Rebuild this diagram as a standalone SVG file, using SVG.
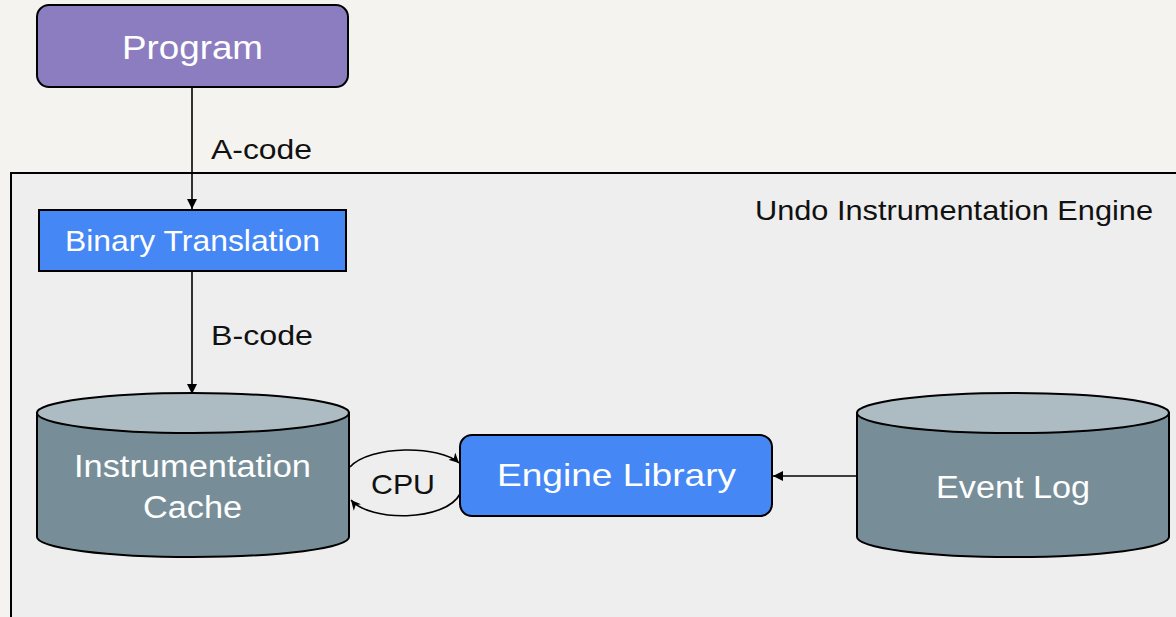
<svg xmlns="http://www.w3.org/2000/svg" width="1176" height="617" viewBox="0 0 1176 617">
  <defs>
    <marker id="arrow" viewBox="0 0 10 10" refX="10" refY="5" markerWidth="10" markerHeight="10" markerUnits="userSpaceOnUse" orient="auto">
      <path d="M0,0 L10,5 L0,10 z" fill="#000"/>
    </marker>
    <marker id="arrowS" viewBox="0 0 10 10" refX="10" refY="5" markerWidth="10" markerHeight="10" markerUnits="userSpaceOnUse" orient="auto">
      <path d="M0,0 L10,5 L0,10 L3,5 z" fill="#000"/>
    </marker>
    <style>
      text { font-family: "Liberation Sans", Arial, sans-serif; }
      .white { fill: #ffffff; }
      .label { fill: #111111; font-size: 28px; }
      .edge { stroke: #000; stroke-width: 1.6; fill: none; }
      .cyl-side { fill: #778e98; stroke: #000; stroke-width: 2; }
      .cyl-top { fill: #adbbc2; stroke: #000; stroke-width: 2; }
    </style>
  </defs>

  <!-- page background -->
  <rect x="0" y="0" width="1176" height="617" fill="#f4f3ef"/>

  <!-- engine container -->
  <g id="engine">
    <rect x="11" y="173" width="1180" height="460" fill="#eeeeee" stroke="#000" stroke-width="2"/>
    <text x="755" y="220" class="label" textLength="398" lengthAdjust="spacingAndGlyphs">Undo Instrumentation Engine</text>
  </g>

  <g id="program">
    <rect x="37" y="5" width="311" height="82" rx="12" fill="#8c7dc1" stroke="#000" stroke-width="2"/>
    <text x="122" y="59" class="white" font-size="33" textLength="141" lengthAdjust="spacingAndGlyphs">Program</text>
  </g>

  <g id="binary-translation">
    <rect x="39" y="210" width="307" height="61" fill="#4587f5" stroke="#000" stroke-width="2"/>
    <text x="65" y="251" class="white" font-size="29" textLength="255" lengthAdjust="spacingAndGlyphs">Binary Translation</text>
  </g>

  <g id="instrumentation-cache">
    <path class="cyl-side" d="M37,413 L37,537 A156,20 0 0 0 349,537 L349,413 Z"/>
    <ellipse class="cyl-top" cx="193" cy="413" rx="156" ry="20"/>
    <text x="74" y="477" class="white" font-size="31" textLength="237" lengthAdjust="spacingAndGlyphs">Instrumentation</text>
    <text x="143" y="518" class="white" font-size="31" textLength="99" lengthAdjust="spacingAndGlyphs">Cache</text>
  </g>

  <g id="engine-library">
    <rect x="460" y="435" width="312" height="81" rx="12" fill="#4587f5" stroke="#000" stroke-width="2"/>
    <text x="497" y="486" class="white" font-size="32" textLength="239" lengthAdjust="spacingAndGlyphs">Engine Library</text>
  </g>

  <g id="event-log">
    <path class="cyl-side" d="M857,413 L857,537 A156,20 0 0 0 1169,537 L1169,413 Z"/>
    <ellipse class="cyl-top" cx="1013" cy="413" rx="156" ry="20"/>
    <text x="936" y="498" class="white" font-size="31" textLength="154" lengthAdjust="spacingAndGlyphs">Event Log</text>
  </g>

  <!-- connectors -->
  <g id="connectors">
    <line class="edge" x1="192" y1="87" x2="192" y2="209" marker-end="url(#arrow)"/>
    <text x="211" y="159" class="label" textLength="101" lengthAdjust="spacingAndGlyphs">A-code</text>
    <line class="edge" x1="192" y1="271" x2="192" y2="394" marker-end="url(#arrow)"/>
    <text x="211" y="345" class="label" textLength="102" lengthAdjust="spacingAndGlyphs">B-code</text>
    <line class="edge" x1="857" y1="476" x2="773" y2="476" marker-end="url(#arrow)"/>
    <path class="edge" d="M350,467 C370,445 440,445 459,463" marker-end="url(#arrowS)"/>
    <path class="edge" d="M460,494 C445,522 370,522 351,500" marker-end="url(#arrowS)"/>
    <text x="371" y="494" class="label" font-size="27" textLength="64" lengthAdjust="spacingAndGlyphs">CPU</text>
  </g>
</svg>
